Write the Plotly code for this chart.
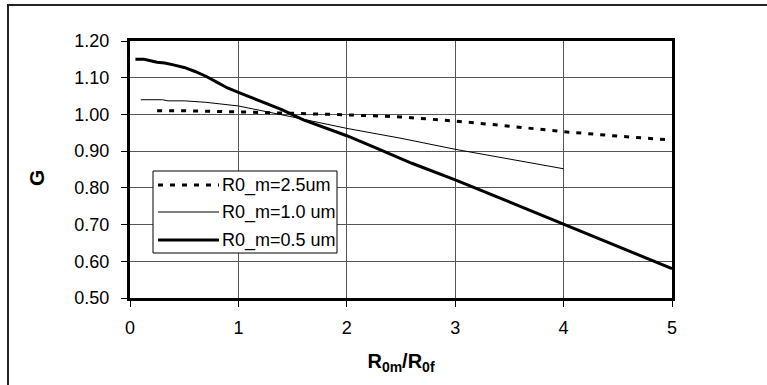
import plotly.graph_objects as go

# ---- data ----
x_25 = [0.25, 0.5, 1.0, 1.5, 2.0, 2.5, 3.0, 3.5, 4.0, 4.5, 5.0]
g_25 = [1.010, 1.010, 1.007, 1.004, 0.999, 0.993, 0.982, 0.968, 0.953, 0.941, 0.930]

x_10 = [0.1, 0.3, 0.35, 0.5, 0.7, 1.0, 1.5, 2.0, 2.5, 3.0, 4.0]
g_10 = [1.040, 1.040, 1.037, 1.037, 1.033, 1.023, 0.993, 0.962, 0.935, 0.905, 0.852]

x_05 = [0.05, 0.13, 0.25, 0.32, 0.4, 0.5, 0.6, 0.7, 0.8, 0.9, 1.0, 1.2, 1.4, 1.6, 1.8, 2.0, 2.3, 2.6, 3.0, 4.0, 5.0]
g_05 = [1.150, 1.150, 1.142, 1.140, 1.135, 1.128, 1.117, 1.104, 1.088, 1.072, 1.060, 1.037, 1.013, 0.985, 0.963, 0.942, 0.905, 0.867, 0.822, 0.700, 0.580]

series_names = ["R0_m=2.5um", "R0_m=1.0 um", "R0_m=0.5 um"]
y_ticks = [0.5, 0.6, 0.7, 0.8, 0.9, 1.0, 1.1, 1.2]
x_ticks = [0, 1, 2, 3, 4, 5]
x_title = "<b>R<sub>0m</sub>/R<sub>0f</sub></b>"
y_title = "<b>G</b>"

W, H = 767, 385
L, R, T, B = 130, 95, 41, 87
pw, ph = W - L - R, H - T - B

def px(xp):
    return (xp - L) / pw

def py(yp):
    return (H - B - yp) / ph

FONT = "Liberation Sans, Arial, sans-serif"

styles = [dict(color="black", width=3, dash="5px,7px"),
          dict(color="black", width=1),
          dict(color="black", width=3)]

fig = go.Figure()
for xs, ys, name, st in zip([x_25, x_10, x_05], [g_25, g_10, g_05], series_names, styles):
    fig.add_trace(go.Scatter(x=xs, y=ys, mode="lines", name=name, line=st, showlegend=False))

axis_common = dict(
    showline=True, linecolor="black", linewidth=3, mirror=True,
    showgrid=True, gridcolor="#555555", gridwidth=1,
    ticks="outside", ticklen=6, tickwidth=1, tickcolor="black",
    zeroline=False, automargin=False,
    tickfont=dict(family=FONT, size=18, color="black"),
)

fig.update_xaxes(range=[0, 5], tickvals=x_ticks, ticklabelstandoff=5,
                 title=dict(text=x_title,
                            font=dict(family=FONT, size=20, color="black"), standoff=18),
                 **axis_common)
fig.update_yaxes(range=[0.5, 1.2], tickvals=y_ticks, tickformat=".2f", ticklabelstandoff=8,
                 **axis_common)

shapes = []
# outer chart border (left and top only, the rest is cropped)
shapes.append(dict(type="line", xref="paper", yref="paper", x0=px(8), x1=px(8), y0=py(390), y1=py(5),
                   line=dict(color="#222222", width=2)))
shapes.append(dict(type="line", xref="paper", yref="paper", x0=px(7), x1=px(770), y0=py(5), y1=py(5),
                   line=dict(color="#222222", width=2)))
# legend box
shapes.append(dict(type="rect", xref="paper", yref="paper", x0=px(153), x1=px(337), y0=py(253), y1=py(171),
                   line=dict(color="black", width=1), fillcolor="white", layer="above"))
legend_y = [185, 212, 240]
annotations = []
for yy, name, st in zip(legend_y, series_names, styles):
    shapes.append(dict(type="line", xref="paper", yref="paper", x0=px(158), x1=px(219), y0=py(yy), y1=py(yy),
                       line=st, layer="above"))
    annotations.append(dict(xref="paper", yref="paper", x=px(220), y=py(yy), text=name, showarrow=False,
                            xanchor="left", yanchor="middle",
                            font=dict(family=FONT, size=18, color="black")))
# y-axis title
annotations.append(dict(xref="paper", yref="paper", x=px(36), y=py(178), text=y_title, showarrow=False,
                        textangle=-90, xanchor="center", yanchor="middle",
                        font=dict(family=FONT, size=21, color="black")))

fig.update_layout(
    width=W, height=H,
    margin=dict(l=L, r=R, t=T, b=B),
    paper_bgcolor="white", plot_bgcolor="white",
    shapes=shapes, annotations=annotations,
    showlegend=False,
)

fig.write_html("out.html", config={"displayModeBar": False},
               post_script="document.body.style.margin='0';document.body.style.overflow='hidden';")
